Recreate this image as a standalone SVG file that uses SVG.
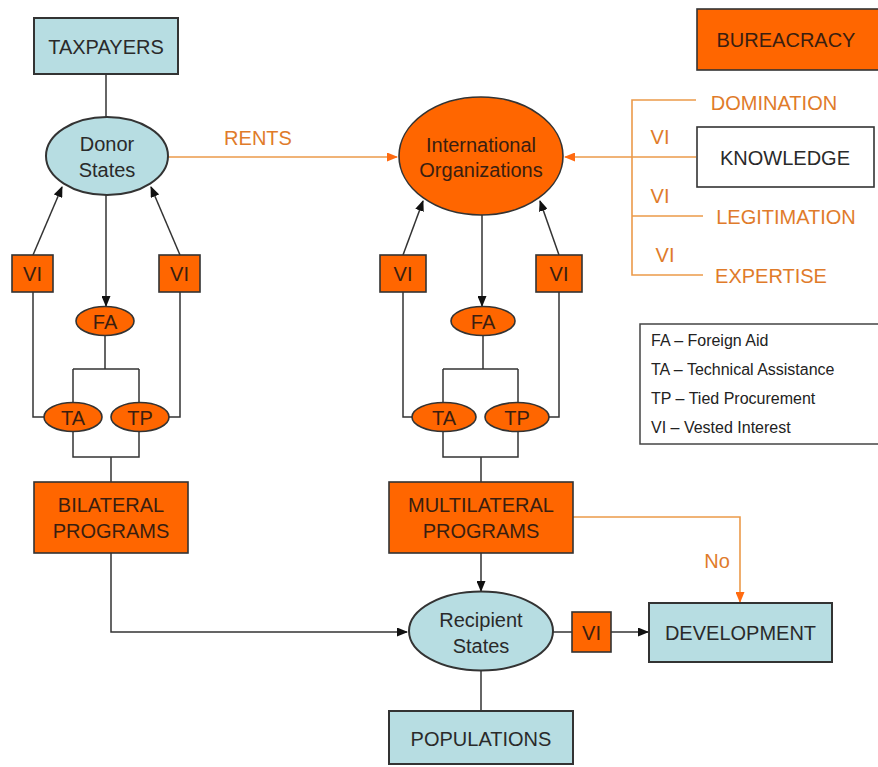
<svg xmlns="http://www.w3.org/2000/svg" width="878" height="767" viewBox="0 0 878 767">
<style>
text{font-family:"Liberation Sans",Arial,sans-serif;font-size:20px;fill:#2a2a2a;text-anchor:middle}
.blue{fill:#b7dde2;stroke:#333;stroke-width:2}
.org{fill:#ff6600;stroke:#333;stroke-width:1.6}
.ot text,text.ot{fill:#e07b2a}
.dk{fill:#3a1e10}
.ln{fill:none;stroke:#333;stroke-width:1.5}
.ol{fill:none;stroke:#eb9a4a;stroke-width:1.6}
.leg text{font-size:16px;text-anchor:start;fill:#222}
</style>
<defs>
<marker id="ab" markerUnits="userSpaceOnUse" markerWidth="11" markerHeight="9" refX="10" refY="4.5" orient="auto"><path d="M0,0 L11,4.5 L0,9 z" fill="#111"/></marker>
<marker id="ao" markerUnits="userSpaceOnUse" markerWidth="11" markerHeight="9" refX="10" refY="4.5" orient="auto"><path d="M0,0 L11,4.5 L0,9 z" fill="#ff6a10"/></marker>
</defs>
<rect width="878" height="767" fill="#fff"/>
<g id="connectors">
<path class="ln" d="M106,74 V117"/>
<path class="ol" d="M168,157 H397" marker-end="url(#ao)"/>
<path class="ln" d="M33,255 L62,187" marker-end="url(#ab)"/>
<path class="ln" d="M180,255 L151,187" marker-end="url(#ab)"/>
<path class="ln" d="M106,195 V306" marker-end="url(#ab)"/>
<path class="ln" d="M105,336 V369 M73,369 H139 M73,369 V403 M139,369 V403"/>
<path class="ln" d="M33,292 V417 H44 M180,292 V417 H169"/>
<path class="ln" d="M73,432 V457 H139 V432 M111,457 V482"/>
<path class="ln" d="M111,553 V632 H407" marker-end="url(#ab)"/>
<path class="ln" d="M403,255 L423,201" marker-end="url(#ab)"/>
<path class="ln" d="M559,255 L540,201" marker-end="url(#ab)"/>
<path class="ln" d="M482,215 V306" marker-end="url(#ab)"/>
<path class="ln" d="M483,336 V369 M443,369 H518 M443,369 V403 M518,369 V403"/>
<path class="ln" d="M403,292 V417 H412 M559,292 V417 H549"/>
<path class="ln" d="M443,432 V457 H518 V432 M481,457 V482"/>
<path class="ln" d="M481,553 V591" marker-end="url(#ab)"/>
<path class="ln" d="M481,671 V711"/>
<path class="ln" d="M553,632 H572"/>
<path class="ln" d="M611,632 H648" marker-end="url(#ab)"/>
<path class="ol" d="M573,517 H740 V602" marker-end="url(#ao)"/>
<path class="ol" d="M696,157 H565" marker-end="url(#ao)"/>
<path class="ol" d="M696,100 H632 V275 H703 M632,216 H703"/>
</g>
<g id="taxpayers"><rect class="blue" x="34" y="18" width="144" height="56"/><text x="106" y="54">TAXPAYERS</text></g>
<g id="rents-label"><text class="ot" x="258" y="145">RENTS</text></g>
<g id="donor-states"><ellipse class="blue" cx="107" cy="156" rx="61" ry="39"/><text x="107" y="151">Donor</text><text x="107" y="177">States</text></g>
<g id="vi-d1"><rect class="org" x="12" y="255" width="41" height="37"/><text class="dk" x="32.5" y="281">VI</text></g>
<g id="vi-d2"><rect class="org" x="159" y="255" width="41" height="37"/><text class="dk" x="179.5" y="281">VI</text></g>
<g id="fa-b"><ellipse class="org" cx="105" cy="321" rx="29" ry="14.5"/><text class="dk" x="105" y="329">FA</text></g>
<g id="ta-b"><ellipse class="org" cx="73" cy="417" rx="29" ry="14.5"/><text class="dk" x="73" y="425">TA</text></g>
<g id="tp-b"><ellipse class="org" cx="140" cy="417" rx="29" ry="14.5"/><text class="dk" x="140" y="425">TP</text></g>
<g id="bilateral"><rect class="org" x="34" y="482" width="154" height="71"/><text class="dk" x="111" y="512">BILATERAL</text><text class="dk" x="111" y="538">PROGRAMS</text></g>
<g id="intl-orgs"><ellipse class="org" cx="481" cy="156" rx="82" ry="59"/><text class="dk" x="481" y="152">International</text><text class="dk" x="481" y="177">Organizations</text></g>
<g id="vi-i1"><rect class="org" x="380" y="255" width="46" height="37"/><text class="dk" x="403" y="281">VI</text></g>
<g id="vi-i2"><rect class="org" x="536" y="255" width="46" height="37"/><text class="dk" x="559" y="281">VI</text></g>
<g id="fa-m"><ellipse class="org" cx="483" cy="321" rx="32" ry="14.5"/><text class="dk" x="483" y="329">FA</text></g>
<g id="ta-m"><ellipse class="org" cx="444" cy="417" rx="32" ry="14.5"/><text class="dk" x="444" y="425">TA</text></g>
<g id="tp-m"><ellipse class="org" cx="517" cy="417" rx="32" ry="14.5"/><text class="dk" x="517" y="425">TP</text></g>
<g id="multilateral"><rect class="org" x="389" y="482" width="184" height="71"/><text class="dk" x="481" y="512">MULTILATERAL</text><text class="dk" x="481" y="538">PROGRAMS</text></g>
<g id="bureacracy"><rect class="org" x="697" y="9" width="200" height="61"/><text class="dk" x="786" y="47">BUREACRACY</text></g>
<g id="domination"><text class="ot" x="774" y="110">DOMINATION</text></g>
<g id="knowledge"><rect fill="#fff" stroke="#333" stroke-width="1.6" x="697" y="127" width="177" height="60"/><text x="785" y="165">KNOWLEDGE</text></g>
<g id="legitimation"><text class="ot" x="786" y="224">LEGITIMATION</text></g>
<g id="expertise"><text class="ot" x="771" y="283">EXPERTISE</text></g>
<g id="vi-labels"><text class="ot" x="660" y="144">VI</text><text class="ot" x="660" y="203">VI</text><text class="ot" x="665" y="262">VI</text></g>
<g id="legend" class="leg"><rect x="640" y="324" width="250" height="120" fill="#fff" stroke="#444" stroke-width="1.5"/><text x="651" y="346">FA – Foreign Aid</text><text x="651" y="375">TA – Technical Assistance</text><text x="651" y="404">TP – Tied Procurement</text><text x="651" y="433">VI – Vested Interest</text></g>
<g id="no-label"><text class="ot" x="717" y="568">No</text></g>
<g id="recipient-states"><ellipse class="blue" cx="481" cy="631" rx="72" ry="39.5"/><text x="481" y="627">Recipient</text><text x="481" y="653">States</text></g>
<g id="vi-r"><rect class="org" x="572" y="612" width="39" height="40"/><text class="dk" x="591.5" y="640">VI</text></g>
<g id="development"><rect class="blue" x="649" y="603" width="183" height="59"/><text x="740.5" y="640">DEVELOPMENT</text></g>
<g id="populations"><rect class="blue" x="389" y="711" width="184" height="53"/><text x="481" y="746">POPULATIONS</text></g>
</svg>
